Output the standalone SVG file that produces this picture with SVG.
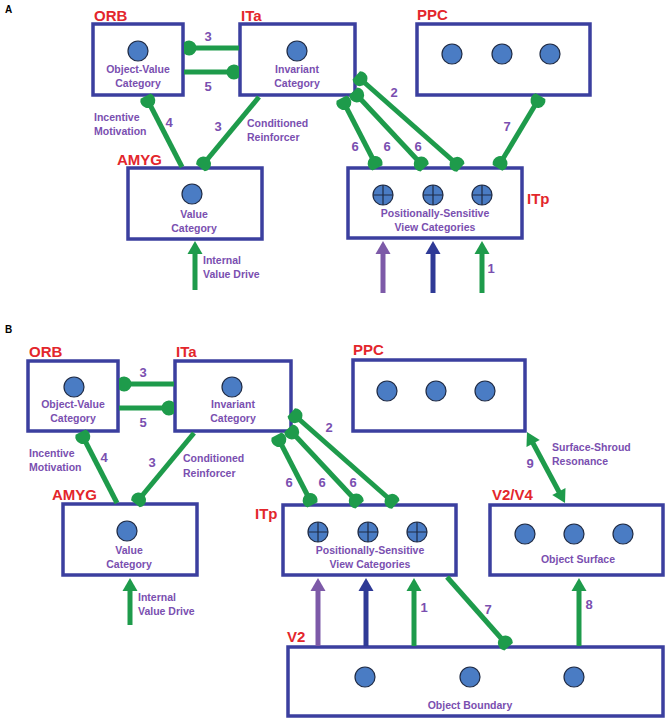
<svg xmlns="http://www.w3.org/2000/svg" width="669" height="721" viewBox="0 0 669 721">
<style>
.box{fill:#fff;stroke:#3b3f9f;stroke-width:3.5}
.cell{fill:#4a7cc4;stroke:#1f2b45;stroke-width:1.2}
.cross{stroke:#1f2b45;stroke-width:1.2}
.reg{font-family:"Liberation Sans",Arial,sans-serif;font-weight:bold;font-size:15px;fill:#e3262c}
.lab{font-family:"Liberation Sans",Arial,sans-serif;font-weight:bold;font-size:10.5px;fill:#7a4fb0}
.num{font-family:"Liberation Sans",Arial,sans-serif;font-weight:bold;font-size:13px;fill:#7a4fb0;text-anchor:middle}
.mid{text-anchor:middle}
.pan{font-family:"Liberation Sans",Arial,sans-serif;font-weight:bold;font-size:10px;fill:#000}
.g{stroke:#1e9b4b;stroke-width:5;fill:none}
.p{stroke:#7d5aa8;stroke-width:5;fill:none}
.b{stroke:#2f3a96;stroke-width:5;fill:none}
.k{marker-end:url(#knob)}
.kk{marker-start:url(#knob);marker-end:url(#knob)}
.ag{marker-end:url(#arrG)}
.ap{marker-end:url(#arrP)}
.ab{marker-end:url(#arrB)}
</style>
<defs>
<marker id="knob" markerUnits="userSpaceOnUse" viewBox="-15 -15 30 30" markerWidth="30" markerHeight="30" refX="0" refY="0" orient="auto-start-reverse">
<path d="M1,-5.6 A7.5,7.5 0 1 0 1,5.6 Z" fill="#1e9b4b"/>
</marker>
<marker id="arrG" markerUnits="userSpaceOnUse" viewBox="-12 -12 24 24" markerWidth="24" markerHeight="24" refX="0" refY="0" orient="auto-start-reverse">
<path d="M10,0 L-3,-7.5 L-3,7.5 Z" fill="#1e9b4b"/>
</marker>
<marker id="arrP" markerUnits="userSpaceOnUse" viewBox="-12 -12 24 24" markerWidth="24" markerHeight="24" refX="0" refY="0" orient="auto">
<path d="M10,0 L-3,-7.5 L-3,7.5 Z" fill="#7d5aa8"/>
</marker>
<marker id="arrB" markerUnits="userSpaceOnUse" viewBox="-12 -12 24 24" markerWidth="24" markerHeight="24" refX="0" refY="0" orient="auto">
<path d="M10,0 L-3,-7.5 L-3,7.5 Z" fill="#2f3a96"/>
</marker>
</defs>
<rect width="669" height="721" fill="#fff"/>
<text class="pan" x="5" y="13">A</text>
<text class="pan" x="5" y="333">B</text>

<!-- Panel A nodes -->
<g id="A-ORB">
<rect class="box" x="93" y="24" width="90" height="71"/>
<text class="reg" x="94" y="21">ORB</text>
<circle class="cell" cx="138" cy="51" r="10"/>
<text class="lab mid" x="138" y="73">Object-Value</text>
<text class="lab mid" x="138" y="87">Category</text>
</g>
<g id="A-ITa">
<rect class="box" x="240" y="24" width="115" height="71"/>
<text class="reg" x="241" y="21">ITa</text>
<circle class="cell" cx="297" cy="51" r="10"/>
<text class="lab mid" x="297" y="73">Invariant</text>
<text class="lab mid" x="297" y="87">Category</text>
</g>
<g id="A-PPC">
<rect class="box" x="417" y="24" width="173" height="71"/>
<text class="reg" x="417" y="20">PPC</text>
<circle class="cell" cx="452" cy="54" r="10"/>
<circle class="cell" cx="502" cy="54" r="10"/>
<circle class="cell" cx="550" cy="54" r="10"/>
</g>
<g id="A-AMYG">
<rect class="box" x="128" y="168" width="134" height="71"/>
<text class="reg" x="117" y="165">AMYG</text>
<circle class="cell" cx="192" cy="194" r="10"/>
<text class="lab mid" x="194" y="218">Value</text>
<text class="lab mid" x="194" y="232">Category</text>
</g>
<g id="A-ITp">
<rect class="box" x="348" y="168" width="174" height="70"/>
<text class="reg" x="527" y="204">ITp</text>
<circle class="cell" cx="383" cy="195" r="10"/><path class="cross" d="M373,195H393M383,185V205"/>
<circle class="cell" cx="433" cy="195" r="10"/><path class="cross" d="M423,195H443M433,185V205"/>
<circle class="cell" cx="482" cy="195" r="10"/><path class="cross" d="M472,195H492M482,185V205"/>
<text class="lab mid" x="435" y="217">Positionally-Sensitive</text>
<text class="lab mid" x="435" y="231">View Categories</text>
</g>

<!-- Panel B nodes -->
<g id="B-ORB">
<rect class="box" x="28" y="361" width="90" height="70"/>
<text class="reg" x="29" y="357">ORB</text>
<circle class="cell" cx="74" cy="387" r="10"/>
<text class="lab mid" x="73" y="408">Object-Value</text>
<text class="lab mid" x="73" y="422">Category</text>
</g>
<g id="B-ITa">
<rect class="box" x="175" y="361" width="116" height="70"/>
<text class="reg" x="176" y="357">ITa</text>
<circle class="cell" cx="232" cy="387" r="10"/>
<text class="lab mid" x="233" y="408">Invariant</text>
<text class="lab mid" x="233" y="422">Category</text>
</g>
<g id="B-PPC">
<rect class="box" x="353" y="360" width="172" height="71"/>
<text class="reg" x="353" y="355">PPC</text>
<circle class="cell" cx="387" cy="391" r="10"/>
<circle class="cell" cx="436" cy="391" r="10"/>
<circle class="cell" cx="485" cy="391" r="10"/>
</g>
<g id="B-AMYG">
<rect class="box" x="63" y="504" width="134" height="71"/>
<text class="reg" x="52" y="500">AMYG</text>
<circle class="cell" cx="127" cy="531" r="10"/>
<text class="lab mid" x="129" y="554">Value</text>
<text class="lab mid" x="129" y="568">Category</text>
</g>
<g id="B-ITp">
<rect class="box" x="283" y="505" width="173" height="70"/>
<text class="reg" x="255" y="519">ITp</text>
<circle class="cell" cx="318" cy="532" r="10"/><path class="cross" d="M308,532H328M318,522V542"/>
<circle class="cell" cx="368" cy="532" r="10"/><path class="cross" d="M358,532H378M368,522V542"/>
<circle class="cell" cx="417" cy="532" r="10"/><path class="cross" d="M407,532H427M417,522V542"/>
<text class="lab mid" x="370" y="554">Positionally-Sensitive</text>
<text class="lab mid" x="370" y="568">View Categories</text>
</g>
<g id="B-V2V4">
<rect class="box" x="490" y="505" width="173" height="70"/>
<text class="reg" x="492" y="500">V2/V4</text>
<circle class="cell" cx="525" cy="534" r="10"/>
<circle class="cell" cx="574" cy="534" r="10"/>
<circle class="cell" cx="623" cy="534" r="10"/>
<text class="lab mid" x="578" y="563">Object Surface</text>
</g>
<g id="B-V2">
<rect class="box" x="288" y="647" width="375" height="69"/>
<text class="reg" x="287" y="642">V2</text>
<circle class="cell" cx="365" cy="677" r="10"/>
<circle class="cell" cx="470" cy="677" r="10"/>
<circle class="cell" cx="574" cy="677" r="10"/>
<text class="lab mid" x="470" y="709">Object Boundary</text>
</g>

<!-- Connectors -->
<g id="connectors">
<!-- A -->
<line class="g k" x1="239" y1="48" x2="185" y2="48"/>
<line class="g k" x1="184" y1="72" x2="238" y2="72"/>
<line class="g k" x1="182" y1="167" x2="146" y2="97"/>
<line class="g k" x1="259" y1="97" x2="201" y2="167"/>
<line class="g kk" x1="342" y1="99" x2="377" y2="167"/>
<line class="g kk" x1="354" y1="92" x2="424" y2="167"/>
<line class="g kk" x1="357" y1="76" x2="460" y2="167"/>
<line class="g kk" x1="540" y1="97" x2="498" y2="167"/>
<line class="p ap" x1="383" y1="293" x2="383" y2="251"/>
<line class="b ab" x1="433" y1="293" x2="433" y2="251"/>
<line class="g ag" x1="482" y1="293" x2="482" y2="251"/>
<line class="g ag" x1="195" y1="290" x2="195" y2="251"/>
<!-- B -->
<line class="g k" x1="174" y1="384" x2="120" y2="384"/>
<line class="g k" x1="119" y1="408" x2="173" y2="408"/>
<line class="g k" x1="117" y1="503" x2="81" y2="433"/>
<line class="g k" x1="194" y1="433" x2="136" y2="503"/>
<line class="g kk" x1="277" y1="436" x2="312" y2="504"/>
<line class="g kk" x1="289" y1="429" x2="359" y2="504"/>
<line class="g kk" x1="292" y1="413" x2="395" y2="504"/>
<line class="p ap" x1="318" y1="646" x2="318" y2="588"/>
<line class="b ab" x1="366" y1="646" x2="366" y2="588"/>
<line class="g ag" x1="414" y1="646" x2="414" y2="588"/>
<line class="g ag" x1="579" y1="646" x2="579" y2="588"/>
<line class="g k" x1="447" y1="577" x2="508" y2="646"/>
<line class="g ag" style="marker-start:url(#arrG)" x1="531.7" y1="440.8" x2="560.3" y2="494.2"/>
<line class="g ag" x1="130" y1="625" x2="130" y2="588"/>
</g>

<!-- Connector labels A -->
<g id="labels-A">
<text class="num" x="208" y="41">3</text>
<text class="num" x="208" y="91">5</text>
<text class="num" x="169" y="127">4</text>
<text class="num" x="218" y="131">3</text>
<text class="lab" x="94" y="121">Incentive</text>
<text class="lab" x="94" y="135">Motivation</text>
<text class="lab" x="247" y="127">Conditioned</text>
<text class="lab" x="247" y="141">Reinforcer</text>
<text class="num" x="394" y="97">2</text>
<text class="num" x="355" y="151">6</text>
<text class="num" x="387" y="151">6</text>
<text class="num" x="418" y="151">6</text>
<text class="num" x="507" y="131">7</text>
<text class="num" x="491" y="273">1</text>
<text class="lab" x="203" y="264">Internal</text>
<text class="lab" x="203" y="278">Value Drive</text>
</g>
<g id="labels-B">
<text class="num" x="143" y="377">3</text>
<text class="num" x="143" y="427">5</text>
<text class="num" x="104" y="462">4</text>
<text class="num" x="152" y="467">3</text>
<text class="lab" x="29" y="457">Incentive</text>
<text class="lab" x="29" y="471">Motivation</text>
<text class="lab" x="183" y="462">Conditioned</text>
<text class="lab" x="183" y="477">Reinforcer</text>
<text class="num" x="329" y="432">2</text>
<text class="num" x="289" y="487">6</text>
<text class="num" x="322" y="487">6</text>
<text class="num" x="353" y="487">6</text>
<text class="num" x="530" y="468">9</text>
<text class="lab" x="552" y="451">Surface-Shroud</text>
<text class="lab" x="552" y="465">Resonance</text>
<text class="num" x="424" y="612">1</text>
<text class="num" x="488" y="614">7</text>
<text class="num" x="589" y="609">8</text>
<text class="lab" x="138" y="601">Internal</text>
<text class="lab" x="138" y="615">Value Drive</text>
</g>
</svg>
